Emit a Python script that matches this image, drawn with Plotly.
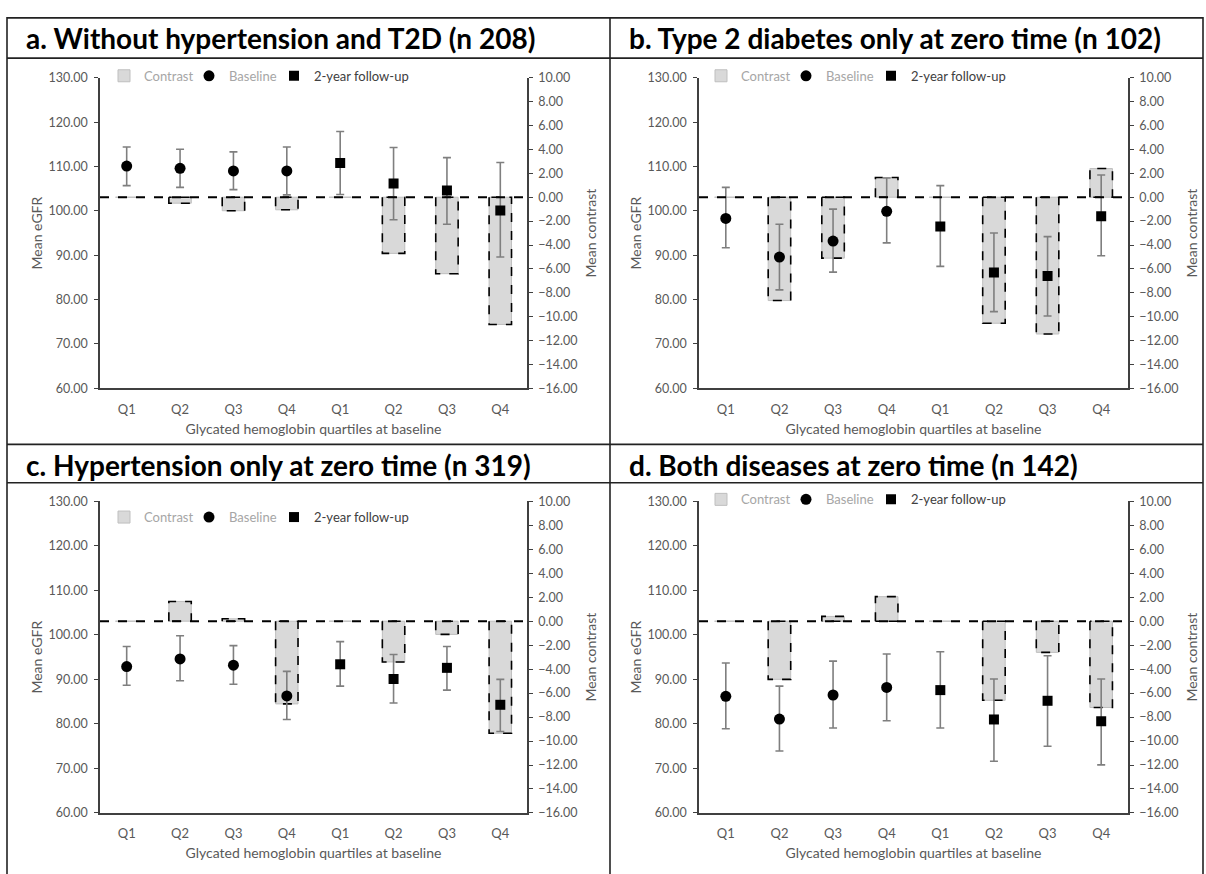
import plotly.graph_objects as go

# ---------------- data ----------------
categories = ["Q1", "Q2", "Q3", "Q4", "Q1", "Q2", "Q3", "Q4"]
periods = ["Baseline"] * 4 + ["2-year follow-up"] * 4

titles = [
    "a. Without hypertension and T2D (n 208)",
    "b. Type 2 diabetes only at zero time (n 102)",
    "c. Hypertension only at zero time (n 319)",
    "d. Both diseases at zero time (n 142)",
]

# mean eGFR (first four = baseline, last four = 2-year follow-up)
a_mean = [110.1, 109.6, 109.0, 109.0, 110.8, 106.2, 104.6, 100.1]
a_upper = [114.4, 113.9, 113.3, 114.4, 117.9, 114.3, 112.0, 110.9]
a_lower = [105.7, 105.3, 104.8, 103.6, 103.7, 98.0, 97.0, 89.6]
a_contrast = [0.0, -0.5, -1.13, -1.05, 0.0, -4.7, -6.4, -10.65]

b_mean = [98.3, 89.6, 93.2, 99.9, 96.5, 86.1, 85.3, 98.8]
b_upper = [105.3, 97.0, 100.4, 107.4, 105.7, 95.0, 94.2, 108.1]
b_lower = [91.7, 82.2, 86.2, 92.8, 87.5, 77.3, 76.3, 89.9]
b_contrast = [0.0, -8.65, -5.1, 1.65, 0.0, -10.55, -11.45, 2.4]

c_mean = [92.9, 94.6, 93.2, 86.3, 93.4, 90.1, 92.6, 84.3]
c_upper = [97.4, 99.8, 97.6, 91.8, 98.5, 95.6, 97.4, 90.0]
c_lower = [88.7, 89.7, 88.9, 81.0, 88.5, 84.7, 87.6, 78.3]
c_contrast = [0.0, 1.65, 0.2, -6.9, 0.0, -3.4, -1.1, -9.35]

d_mean = [86.2, 81.1, 86.5, 88.2, 87.6, 81.0, 85.2, 80.6]
d_upper = [93.7, 88.5, 94.1, 95.7, 96.2, 90.1, 95.3, 90.1]
d_lower = [78.9, 73.9, 79.1, 80.7, 79.1, 71.6, 75.0, 70.8]
d_contrast = [0.0, -4.85, 0.4, 2.05, 0.0, -6.6, -2.6, -7.2]

egfr_ticks = [60, 70, 80, 90, 100, 110, 120, 130]
contrast_ticks = list(range(-16, 11, 2))

panel_data = [
    (a_mean, a_upper, a_lower, a_contrast),
    (b_mean, b_upper, b_lower, b_contrast),
    (c_mean, c_upper, c_lower, c_contrast),
    (d_mean, d_upper, d_lower, d_contrast),
]

# ---------------- layout geometry (pixels) ----------------
W, H = 1206, 874
FONT = "Lato, 'Open Sans', sans-serif"
TICK_COL = "#595959"
AXIS_COL = "#404040"
BAR_W = 0.42


def px(x):
    return x / W


def py(y):
    return 1 - y / H


geom = [
    dict(x0=100, x1=527, yt=71, yb=387, tx=24, ty=31, lx=104, ly=69),
    dict(x0=699, x1=1128, yt=71, yb=387, tx=627, ty=31, lx=701, ly=69),
    dict(x0=100, x1=527, yt=502, yb=819, tx=24, ty=465, lx=104, ly=518),
    dict(x0=699, x1=1128, yt=502, yb=819, tx=627, ty=465, lx=701, ly=500),
]

fig = go.Figure()
layout = dict(
    width=W, height=H, margin=dict(l=0, r=0, t=0, b=0),
    paper_bgcolor="white", plot_bgcolor="rgba(0,0,0,0)",
    font=dict(family=FONT, color=TICK_COL, size=13),
    barmode="overlay", shapes=[], annotations=[],
)

positions = list(range(len(categories)))

for i, (g, (mean, upper, lower, contrast)) in enumerate(zip(geom, panel_data)):
    n = i + 1
    xid = "x" if n == 1 else f"x{n}"
    yc = "y" if n == 1 else f"y{2 * n - 1}"      # contrast axis (right)
    ye = f"y{2 * n}"                              # eGFR axis (left, overlaying)
    leg = "legend" if n == 1 else f"legend{n}"

    # contrast bars (fill)
    fig.add_trace(go.Bar(
        x=positions, y=contrast, width=BAR_W, xaxis=xid, yaxis=yc,
        marker=dict(color="#d9d9d9", line=dict(width=1, color="#bfbfbf")),
        name='<span style="color:#a6a6a6">Contrast</span>',
        legend=leg, showlegend=True, hoverinfo="y",
    ))
    # dashed outline of bars
    ox, oy = [], []
    for p, v in zip(positions, contrast):
        if v == 0:
            continue
        ox += [p - BAR_W / 2, p - BAR_W / 2, p + BAR_W / 2, p + BAR_W / 2, p - BAR_W / 2, None]
        oy += [0, v, v, 0, 0, None]
    fig.add_trace(go.Scatter(
        x=ox, y=oy, mode="lines", xaxis=xid, yaxis=yc,
        line=dict(color="black", width=1.6, dash="dash"),
        showlegend=False, hoverinfo="skip", legend=leg,
    ))

    # baseline and follow-up points with confidence intervals
    for idx, symbol, size, label in [
        (range(0, 4), "circle", 11, '<span style="color:#a6a6a6">Baseline</span>'),
        (range(4, 8), "square", 10, '<span style="color:#404040">2-year follow-up</span>'),
    ]:
        xs = [positions[k] for k in idx]
        ms = [mean[k] for k in idx]
        up = [upper[k] - mean[k] for k in idx]
        lo = [mean[k] - lower[k] for k in idx]
        fig.add_trace(go.Scatter(
            x=xs, y=ms, mode="markers", xaxis=xid, yaxis=ye,
            marker=dict(symbol=symbol, size=size, color="black"),
            error_y=dict(type="data", array=up, arrayminus=lo, symmetric=False,
                         color="#7f7f7f", thickness=1.6, width=4),
            name=label, legend=leg, showlegend=True,
        ))
    # empty legend slot so the last label is not clipped by the fixed entry width
    fig.add_trace(go.Scatter(
        x=[None], y=[None], mode="markers", xaxis=xid, yaxis=ye,
        marker=dict(size=1, color="rgba(0,0,0,0)"),
        name=" ", legend=leg, showlegend=True, hoverinfo="skip",
    ))

    xdom = [px(g["x0"]), px(g["x1"])]
    ydom = [py(g["yb"]), py(g["yt"])]
    xkey = "xaxis" if n == 1 else f"xaxis{n}"
    yckey = "yaxis" if n == 1 else f"yaxis{2 * n - 1}"
    yekey = f"yaxis{2 * n}"

    layout[xkey] = dict(
        domain=xdom, anchor=ye, range=[-0.5, 7.5],
        tickmode="array", tickvals=positions, ticktext=categories,
        showline=True, linecolor=AXIS_COL, linewidth=1.6,
        showgrid=False, zeroline=False, ticks="",
        ticklabelstandoff=8,
        tickfont=dict(size=13, color=TICK_COL),
        title=dict(text="Glycated hemoglobin quartiles at baseline",
                   font=dict(size=14, color=TICK_COL), standoff=8),
    )
    layout[yckey] = dict(
        domain=ydom, anchor=xid, side="right", range=[-16, 10],
        tickmode="array", tickvals=contrast_ticks, tickformat=".2f",
        showline=True, linecolor=AXIS_COL, linewidth=1.6,
        ticks="outside", ticklen=4, tickcolor=AXIS_COL, tickwidth=1.4,
        ticklabelstandoff=3,
        showgrid=False, zeroline=False,
        tickfont=dict(size=12.5, color=TICK_COL),
        title=dict(text="Mean contrast", font=dict(size=14, color=TICK_COL), standoff=10),
    )
    layout[yekey] = dict(
        domain=ydom, anchor=xid, side="left", overlaying=yc, range=[60, 130],
        tickmode="array", tickvals=egfr_ticks, tickformat=".2f",
        showline=True, linecolor=AXIS_COL, linewidth=1.6,
        ticks="outside", ticklen=4, tickcolor=AXIS_COL, tickwidth=1.4,
        ticklabelstandoff=4,
        showgrid=False, zeroline=False,
        tickfont=dict(size=12.5, color=TICK_COL),
        title=dict(text="Mean eGFR", font=dict(size=14, color=TICK_COL), standoff=3),
    )
    layout[leg] = dict(
        x=px(g["lx"]), y=py(g["ly"]), xanchor="left", yanchor="middle",
        orientation="h", bgcolor="rgba(0,0,0,0)", itemwidth=30,
        entrywidth=40, entrywidthmode="pixels",
        font=dict(size=13, family=FONT), traceorder="normal",
        itemclick=False, itemdoubleclick=False,
    )

    # reference line at zero contrast
    layout["shapes"].append(dict(
        type="line", xref=f"{xid} domain", x0=0, x1=1, yref=yc, y0=0, y1=0,
        line=dict(color="black", width=2, dash="dash"), layer="above",
    ))
    # panel title
    layout["annotations"].append(dict(
        text=f"<b>{titles[i]}</b>", xref="paper", yref="paper",
        x=px(g["tx"]), y=py(g["ty"]), xanchor="left", yanchor="middle",
        showarrow=False, font=dict(size=28, color="black", family=FONT),
    ))

# panel frames
frame = dict(color="#222222", width=1.6)
for sh in [
    dict(type="rect", x0=px(7), x1=px(1203), y0=-0.02, y1=py(10)),
    dict(type="line", x0=px(610), x1=px(610), y0=-0.02, y1=py(10)),
    dict(type="line", x0=px(7), x1=px(1203), y0=py(51), y1=py(51)),
    dict(type="line", x0=px(7), x1=px(1203), y0=py(444), y1=py(444)),
    dict(type="line", x0=px(7), x1=px(1203), y0=py(483), y1=py(483)),
]:
    sh.update(xref="paper", yref="paper", line=frame, layer="above")
    layout["shapes"].append(sh)

fig.update_layout(**layout)
fig.write_html(
    "out.html",
    config={"displayModeBar": False},
    post_script="document.body.style.margin='0';document.body.style.overflow='hidden';",
)
